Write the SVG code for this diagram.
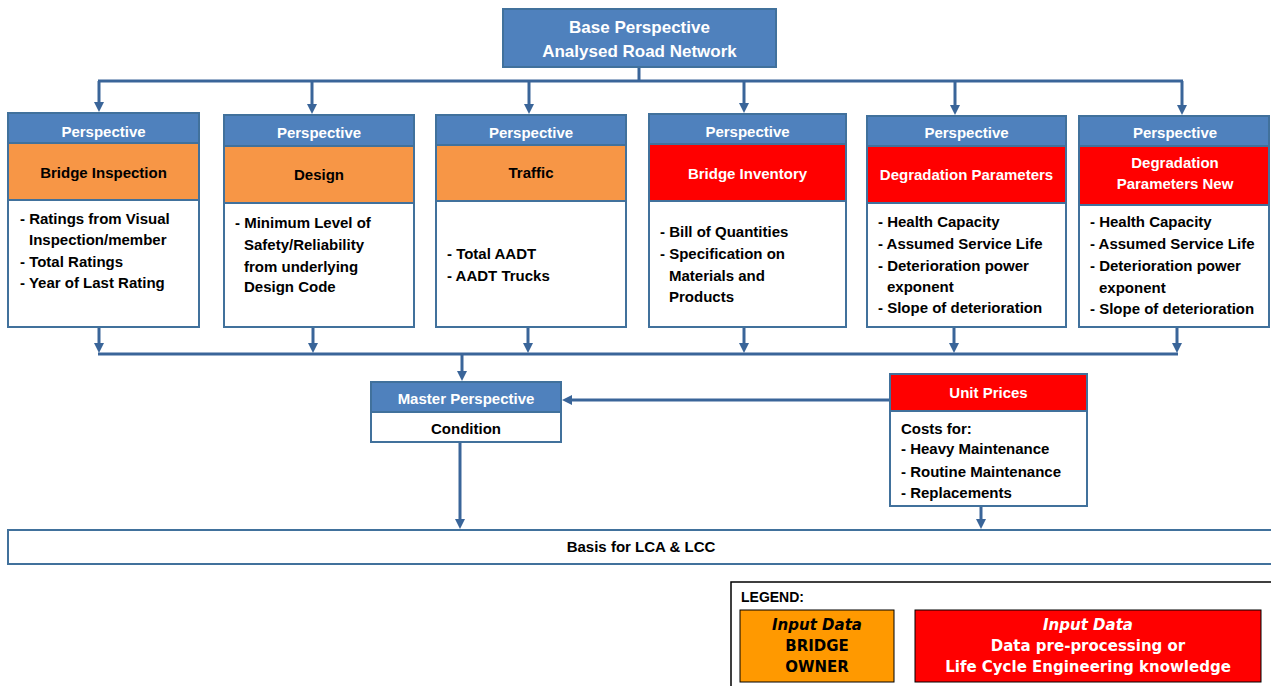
<svg xmlns="http://www.w3.org/2000/svg" width="1271" height="686" viewBox="0 0 1271 686">
<style>
.bd{stroke:#41719C;stroke-width:2}
.hd{fill:#4F81BD}
.or{fill:#F79646}
.rd{fill:#FF0000}
.wh{fill:#FFFFFF}
text{font-family:"Liberation Sans",Arial,sans-serif;font-weight:bold;font-size:15px;fill:#000}
.c{text-anchor:middle}
.w{fill:#FFFFFF}
.big{font-size:17px}
.lg{font-family:"DejaVu Sans",Verdana,sans-serif;font-size:15px}
.it{font-style:italic}
.cn{fill:none;stroke:#3A6599;stroke-width:3}
</style>
<defs>
<marker id="ah" markerWidth="10" markerHeight="10" refX="2" refY="5" orient="auto" markerUnits="userSpaceOnUse">
<path d="M0,0 L10,5 L0,10 z" fill="#3A6599"/>
</marker>
</defs>
<rect width="1271" height="686" fill="#FFFFFF"/>

<g id="connectors">
<path class="cn" d="M639,67 V81 M98,81 H1183"/>
<path class="cn" marker-end="url(#ah)" d="M99,81 V104"/>
<path class="cn" marker-end="url(#ah)" d="M312,81 V106"/>
<path class="cn" marker-end="url(#ah)" d="M529,81 V106"/>
<path class="cn" marker-end="url(#ah)" d="M744,81 V105"/>
<path class="cn" marker-end="url(#ah)" d="M955,81 V107"/>
<path class="cn" marker-end="url(#ah)" d="M1182,81 V107"/>
<path class="cn" d="M98,354 H1178"/>
<path class="cn" marker-end="url(#ah)" d="M99,327 V345"/>
<path class="cn" marker-end="url(#ah)" d="M313,327 V345"/>
<path class="cn" marker-end="url(#ah)" d="M528,327 V345"/>
<path class="cn" marker-end="url(#ah)" d="M744,327 V345"/>
<path class="cn" marker-end="url(#ah)" d="M954,327 V345"/>
<path class="cn" marker-end="url(#ah)" d="M1177,327 V345"/>
<path class="cn" marker-end="url(#ah)" d="M462,354 V373"/>
<path class="cn" marker-end="url(#ah)" d="M890,400 H570"/>
<path class="cn" marker-end="url(#ah)" d="M460,442 V521"/>
<path class="cn" marker-end="url(#ah)" d="M981,506 V521"/>
</g>

<g id="base">
<rect class="hd bd" x="503" y="9" width="273" height="58"/>
<text class="c w big" x="639.5" y="33">Base Perspective</text>
<text class="c w big" x="639.5" y="57">Analysed Road Network</text>
</g>

<g id="bridge-inspection">
<rect class="hd bd" x="8" y="113" width="191" height="30"/>
<rect class="or bd" x="8" y="143" width="191" height="57"/>
<rect class="wh bd" x="8" y="200" width="191" height="127"/>
<text class="c w" x="103.5" y="137">Perspective</text>
<text class="c" x="103.5" y="178">Bridge Inspection</text>
<text x="20" y="224">- Ratings from Visual</text>
<text x="29" y="245">Inspection/member</text>
<text x="20" y="267">- Total Ratings</text>
<text x="20" y="288">- Year of Last Rating</text>
</g>

<g id="design">
<rect class="hd bd" x="224" y="115" width="190" height="31"/>
<rect class="or bd" x="224" y="146" width="190" height="57"/>
<rect class="wh bd" x="224" y="203" width="190" height="124"/>
<text class="c w" x="319" y="138">Perspective</text>
<text class="c" x="319" y="180">Design</text>
<text x="235" y="228">- Minimum Level of</text>
<text x="244" y="250">Safety/Reliability</text>
<text x="244" y="272">from underlying</text>
<text x="244" y="292">Design Code</text>
</g>

<g id="traffic">
<rect class="hd bd" x="436" y="115" width="190" height="30"/>
<rect class="or bd" x="436" y="145" width="190" height="56"/>
<rect class="wh bd" x="436" y="201" width="190" height="126"/>
<text class="c w" x="531" y="138">Perspective</text>
<text class="c" x="531" y="178">Traffic</text>
<text x="447" y="259">- Total AADT</text>
<text x="447" y="281">- AADT Trucks</text>
</g>

<g id="bridge-inventory">
<rect class="hd bd" x="649" y="114" width="197" height="30"/>
<rect class="rd bd" x="649" y="144" width="197" height="57"/>
<rect class="wh bd" x="649" y="201" width="197" height="126"/>
<text class="c w" x="747.5" y="137">Perspective</text>
<text class="c w" x="747.5" y="179">Bridge Inventory</text>
<text x="660" y="237">- Bill of Quantities</text>
<text x="660" y="259">- Specification on</text>
<text x="669" y="281">Materials and</text>
<text x="669" y="302">Products</text>
</g>

<g id="degradation-parameters">
<rect class="hd bd" x="867" y="116" width="199" height="30"/>
<rect class="rd bd" x="867" y="146" width="199" height="57"/>
<rect class="wh bd" x="867" y="203" width="199" height="124"/>
<text class="c w" x="966.5" y="138">Perspective</text>
<text class="c w" x="966.5" y="180">Degradation Parameters</text>
<text x="878" y="227">- Health Capacity</text>
<text x="878" y="249">- Assumed Service Life</text>
<text x="878" y="271">- Deterioration power</text>
<text x="887" y="292">exponent</text>
<text x="878" y="313">- Slope of deterioration</text>
</g>

<g id="degradation-parameters-new">
<rect class="hd bd" x="1079" y="116" width="190" height="30"/>
<rect class="rd bd" x="1079" y="146" width="190" height="59"/>
<rect class="wh bd" x="1079" y="205" width="190" height="122"/>
<text class="c w" x="1175" y="138">Perspective</text>
<text class="c w" x="1175" y="168">Degradation</text>
<text class="c w" x="1175" y="189">Parameters New</text>
<text x="1090" y="227">- Health Capacity</text>
<text x="1090" y="249">- Assumed Service Life</text>
<text x="1090" y="271">- Deterioration power</text>
<text x="1099" y="293">exponent</text>
<text x="1090" y="314">- Slope of deterioration</text>
</g>

<g id="master">
<rect class="hd bd" x="371" y="382" width="190" height="30"/>
<rect class="wh bd" x="371" y="412" width="190" height="30"/>
<text class="c w" x="466" y="404">Master Perspective</text>
<text class="c" x="466" y="434">Condition</text>
</g>

<g id="unit-prices">
<rect class="rd bd" x="890" y="374" width="197" height="37"/>
<rect class="wh bd" x="890" y="411" width="197" height="95"/>
<text class="c w" x="988.5" y="398">Unit Prices</text>
<text x="901" y="434">Costs for:</text>
<text x="901" y="454">- Heavy Maintenance</text>
<text x="901" y="477">- Routine Maintenance</text>
<text x="901" y="498">- Replacements</text>
</g>

<g id="basis">
<rect class="wh bd" x="8" y="530" width="1270" height="34"/>
<text class="c" x="641" y="552">Basis for LCA &amp; LCC</text>
</g>

<g id="legend">
<rect x="731" y="582" width="560" height="120" fill="#FFFFFF" stroke="#000000" stroke-width="1.5"/>
<text x="741" y="602" style="font-size:14px">LEGEND:</text>
<rect x="740" y="610" width="154" height="72" fill="#FF9900" stroke="#000000" stroke-width="1"/>
<text class="c lg it" x="817" y="630">Input Data</text>
<text class="c lg" x="817" y="651">BRIDGE</text>
<text class="c lg" x="817" y="672">OWNER</text>
<rect x="915" y="610" width="346" height="72" fill="#FF0000" stroke="#000000" stroke-width="1"/>
<text class="c lg it w" x="1088" y="630">Input Data</text>
<text class="c lg w" x="1088" y="651">Data pre-processing or</text>
<text class="c lg w" x="1088" y="672">Life Cycle Engineering knowledge</text>
</g>
</svg>
